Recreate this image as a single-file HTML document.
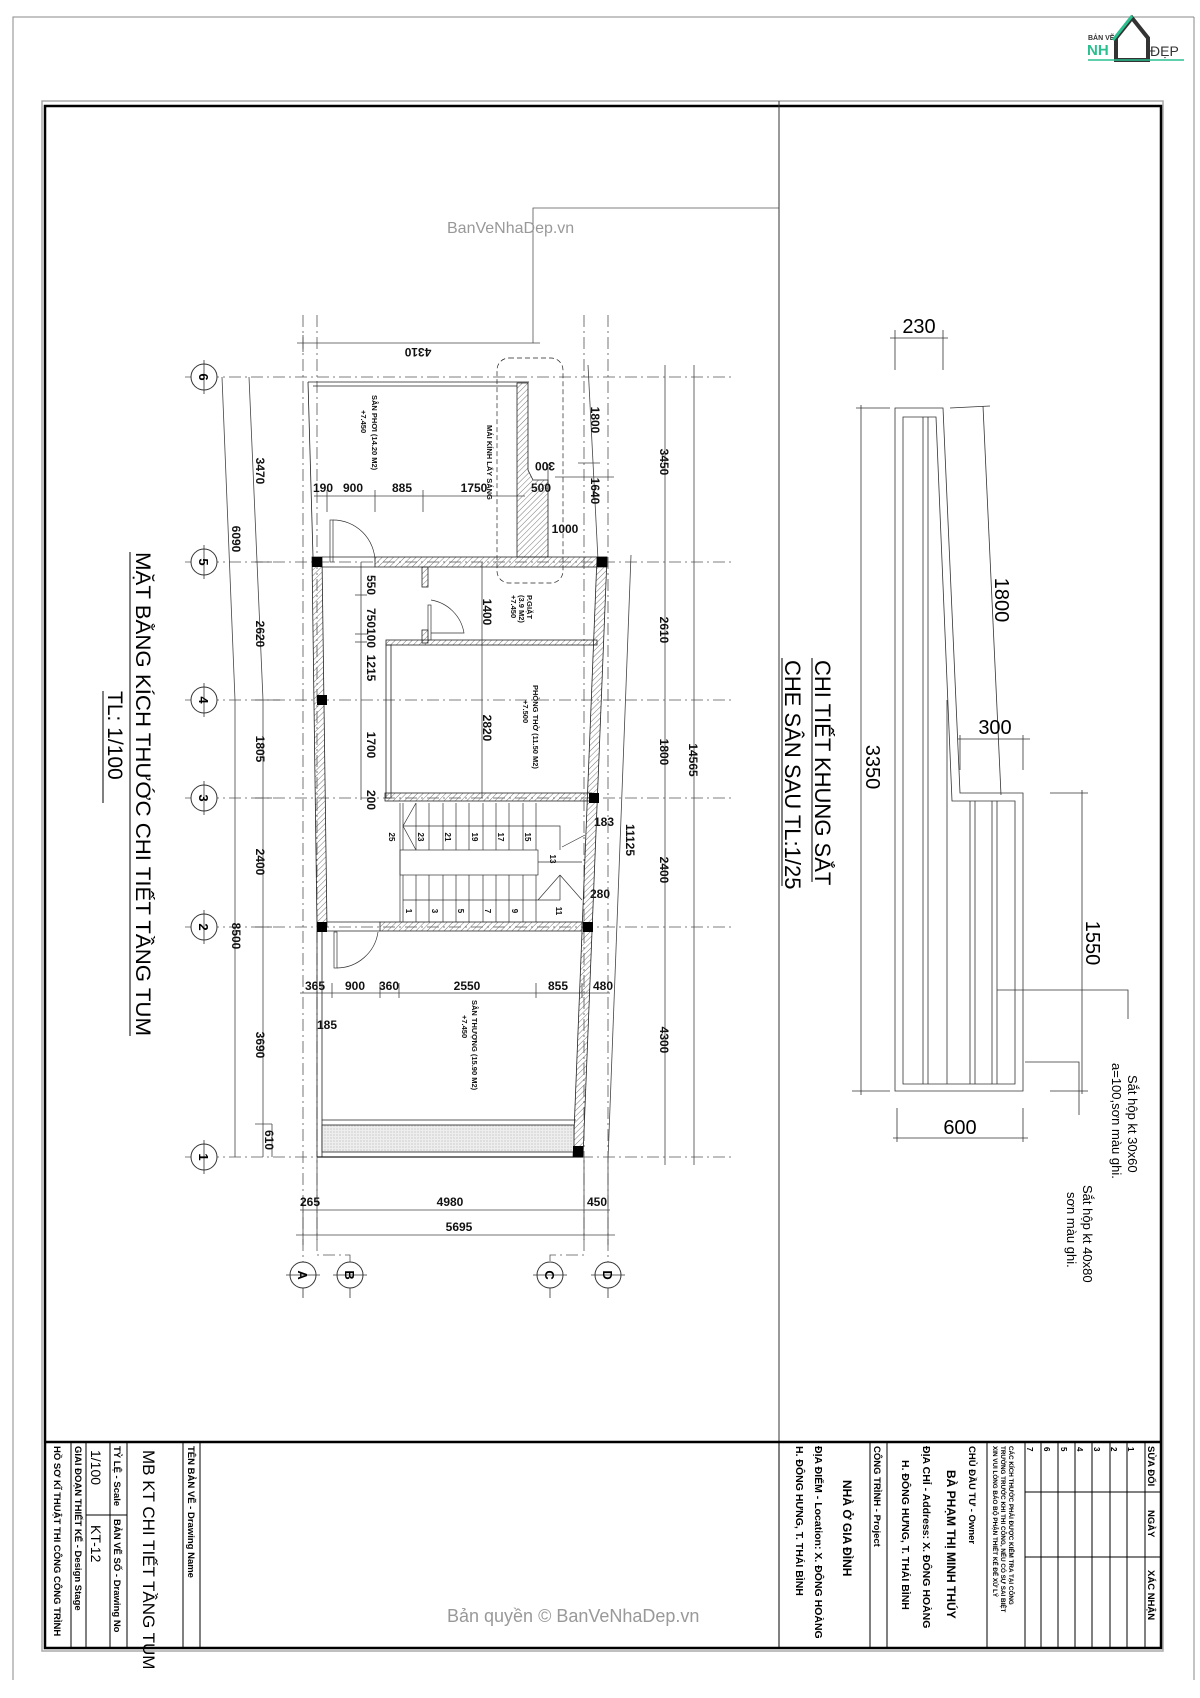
<!DOCTYPE html>
<html><head><meta charset="utf-8"><style>
html,body{margin:0;padding:0;background:#fff;}
svg{display:block;font-family:"Liberation Sans",Arial,sans-serif;}
</style></head><body>
<svg width="1200" height="1698" viewBox="0 0 1200 1698" xmlns="http://www.w3.org/2000/svg">
<defs>
<pattern id="h" width="4" height="4" patternUnits="userSpaceOnUse" patternTransform="rotate(45)"><line x1="0" y1="0" x2="0" y2="4" stroke="#555" stroke-width="0.8"/></pattern>
<pattern id="d" width="3" height="3" patternUnits="userSpaceOnUse"><rect width="3" height="3" fill="#eee"/><circle cx="1" cy="1" r="0.5" fill="#999"/></pattern>
</defs>
<rect width="1200" height="1698" fill="#fff"/>
<!-- outer frame -->
<path d="M13 1680 V17 H1194" fill="none" stroke="#888" stroke-width="1"/>
<line x1="1194" y1="17" x2="1194" y2="1680" stroke="#888"/>
<rect x="42" y="101" width="1121" height="1550" fill="none" stroke="#aaa" stroke-width="1.5"/>
<rect x="45" y="106" width="1116" height="1542" fill="none" stroke="#000" stroke-width="2.5"/>
<line x1="779" y1="101" x2="779" y2="1442" stroke="#333"/>
<path d="M533 343 V208 H779" fill="none" stroke="#555" stroke-width="0.8"/>
<!-- logo -->
<text x="1088" y="40" font-size="7" font-weight="bold" fill="#333">BẢN VẼ</text>
<text x="1087" y="55" font-size="15" font-weight="bold" fill="#2bbf8f">NH</text>
<path d="M1132 18 L1116 38 V60 H1148 V38 Z" fill="none" stroke="#333" stroke-width="4"/>
<path d="M1132 16 L1113 40" stroke="#2bbf8f" stroke-width="3"/>
<text x="1150" y="56" font-size="14" fill="#333">ĐẸP</text>
<line x1="1088" y1="60" x2="1184" y2="60" stroke="#2bbf8f" stroke-width="1.5"/>
<!-- watermark -->
<text x="447" y="233" font-size="16" fill="#999">BanVeNhaDep.vn</text>
<text x="447" y="1622" font-size="18" fill="#999">Bản quyền © BanVeNhaDep.vn</text>

<!-- GRID -->
<g stroke="#555" stroke-width="0.8" stroke-dasharray="12,4,2,4" fill="none">
<line x1="185" y1="377" x2="732" y2="377"/>
<line x1="185" y1="562" x2="732" y2="562"/>
<line x1="185" y1="700" x2="732" y2="700"/>
<line x1="185" y1="798" x2="732" y2="798"/>
<line x1="185" y1="927" x2="732" y2="927"/>
<line x1="185" y1="1157" x2="732" y2="1157"/>
<line x1="303" y1="315" x2="303" y2="1262"/>
<path d="M317 315 V1255 H350 V1262"/>
<path d="M584 315 V1255 H550 V1262"/>
<line x1="608" y1="315" x2="608" y2="1262"/>
</g>
<g stroke="#333" stroke-width="1" fill="#fff">
<circle cx="204" cy="377" r="13"/><circle cx="204" cy="562" r="13"/><circle cx="204" cy="700" r="13"/>
<circle cx="204" cy="798" r="13"/><circle cx="204" cy="927" r="13"/><circle cx="204" cy="1157" r="13"/>
<circle cx="303" cy="1275" r="13"/><circle cx="350" cy="1275" r="13"/><circle cx="550" cy="1275" r="13"/><circle cx="608" cy="1275" r="13"/>
</g>
<g stroke="#333" stroke-width="0.8">
<line x1="204" y1="360" x2="204" y2="394"/><line x1="204" y1="545" x2="204" y2="579"/><line x1="204" y1="683" x2="204" y2="717"/>
<line x1="204" y1="781" x2="204" y2="815"/><line x1="204" y1="910" x2="204" y2="944"/><line x1="204" y1="1140" x2="204" y2="1174"/>
<line x1="286" y1="1275" x2="320" y2="1275"/><line x1="333" y1="1275" x2="367" y2="1275"/><line x1="533" y1="1275" x2="567" y2="1275"/><line x1="591" y1="1275" x2="625" y2="1275"/>
<line x1="303" y1="1288" x2="303" y2="1298"/><line x1="350" y1="1288" x2="350" y2="1298"/><line x1="550" y1="1288" x2="550" y2="1298"/><line x1="608" y1="1288" x2="608" y2="1298"/>
</g>
<g font-size="13" font-weight="bold" fill="#000">
<text transform="translate(199,377) rotate(90)" text-anchor="middle">6</text>
<text transform="translate(199,562) rotate(90)" text-anchor="middle">5</text>
<text transform="translate(199,700) rotate(90)" text-anchor="middle">4</text>
<text transform="translate(199,798) rotate(90)" text-anchor="middle">3</text>
<text transform="translate(199,927) rotate(90)" text-anchor="middle">2</text>
<text transform="translate(199,1157) rotate(90)" text-anchor="middle">1</text>
<text transform="translate(298,1275) rotate(90)" text-anchor="middle">A</text>
<text transform="translate(345,1275) rotate(90)" text-anchor="middle">B</text>
<text transform="translate(545,1275) rotate(90)" text-anchor="middle">C</text>
<text transform="translate(603,1275) rotate(90)" text-anchor="middle">D</text>
</g>

<!-- LEFT DIM LINES -->
<g stroke="#444" stroke-width="0.8" fill="none">
<path d="M222 377 L235 700 V1157"/>
<path d="M249 377 L263 700 V1157"/>
<line x1="255" y1="562" x2="272" y2="562"/><line x1="255" y1="700" x2="280" y2="700"/><line x1="255" y1="798" x2="272" y2="798"/><line x1="255" y1="927" x2="272" y2="927"/><line x1="255" y1="1124" x2="272" y2="1124"/>
<line x1="272" y1="1124" x2="272" y2="1157"/>
<!-- right dims -->
<line x1="665" y1="365" x2="665" y2="1165"/>
<line x1="694" y1="365" x2="694" y2="1165"/>
<line x1="631" y1="555" x2="608" y2="1160"/>
<path d="M588 365 L598 560"/>
<line x1="578" y1="463" x2="600" y2="463"/>
<line x1="555" y1="477" x2="614" y2="477"/>
<line x1="548" y1="464" x2="548" y2="492"/>
<!-- plan interior dims -->
<line x1="314" y1="496" x2="525" y2="496"/>
<line x1="327" y1="490" x2="327" y2="512"/><line x1="375" y1="490" x2="375" y2="512"/><line x1="423" y1="490" x2="423" y2="512"/>
<line x1="361" y1="562" x2="361" y2="800"/>
<line x1="355" y1="595" x2="367" y2="595"/><line x1="355" y1="634" x2="367" y2="634"/><line x1="355" y1="642" x2="367" y2="642"/>
<line x1="482" y1="562" x2="482" y2="798"/>
<line x1="300" y1="993" x2="610" y2="993"/>
<line x1="332" y1="983" x2="332" y2="998"/><line x1="380" y1="983" x2="380" y2="998"/><line x1="399" y1="983" x2="399" y2="998"/><line x1="536" y1="983" x2="536" y2="998"/><line x1="582" y1="983" x2="582" y2="998"/>
<!-- bottom dims -->
<line x1="300" y1="1210" x2="610" y2="1210"/>
<line x1="296" y1="1235" x2="615" y2="1235"/>
<line x1="303" y1="1200" x2="303" y2="1245"/><line x1="317" y1="1160" x2="317" y2="1240"/><line x1="584" y1="1160" x2="584" y2="1240"/><line x1="608" y1="1160" x2="608" y2="1245"/>
<!-- 4310 -->
<line x1="297" y1="343" x2="540" y2="343"/>
<line x1="303" y1="335" x2="303" y2="352"/>
</g>
<g font-size="12" font-weight="bold" fill="#111">
<text transform="translate(256,471) rotate(90)" text-anchor="middle">3470</text>
<text transform="translate(232,539) rotate(90)" text-anchor="middle">6090</text>
<text transform="translate(256,634) rotate(90)" text-anchor="middle">2620</text>
<text transform="translate(256,749) rotate(90)" text-anchor="middle">1805</text>
<text transform="translate(256,862) rotate(90)" text-anchor="middle">2400</text>
<text transform="translate(232,936) rotate(90)" text-anchor="middle">8500</text>
<text transform="translate(256,1045) rotate(90)" text-anchor="middle">3690</text>
<text transform="translate(265,1140) rotate(90)" text-anchor="middle">610</text>
<text transform="translate(660,462) rotate(90)" text-anchor="middle">3450</text>
<text transform="translate(660,630) rotate(90)" text-anchor="middle">2610</text>
<text transform="translate(660,752) rotate(90)" text-anchor="middle">1800</text>
<text transform="translate(660,870) rotate(90)" text-anchor="middle">2400</text>
<text transform="translate(660,1040) rotate(90)" text-anchor="middle">4300</text>
<text transform="translate(689,760) rotate(90)" text-anchor="middle">14565</text>
<text transform="translate(626,840) rotate(90)" text-anchor="middle">11125</text>
<text transform="translate(591,420) rotate(90)" text-anchor="middle">1800</text>
<text transform="translate(591,491) rotate(90)" text-anchor="middle">1640</text>
<text transform="translate(545,462) rotate(180)" text-anchor="middle">300</text>
<text transform="translate(418,348) rotate(180)" text-anchor="middle">4310</text>
<text x="565" y="533" text-anchor="middle">1000</text>
<text x="323" y="492" text-anchor="middle">190</text>
<text x="353" y="492" text-anchor="middle">900</text>
<text x="402" y="492" text-anchor="middle">885</text>
<text x="474" y="492" text-anchor="middle">1750</text>
<text x="541" y="492" text-anchor="middle">500</text>
<text transform="translate(367,585) rotate(90)" text-anchor="middle">550</text>
<text transform="translate(367,618) rotate(90)" text-anchor="middle">750</text>
<text transform="translate(367,638) rotate(90)" text-anchor="middle">100</text>
<text transform="translate(367,668) rotate(90)" text-anchor="middle">1215</text>
<text transform="translate(367,745) rotate(90)" text-anchor="middle">1700</text>
<text transform="translate(367,800) rotate(90)" text-anchor="middle">200</text>
<text transform="translate(483,612) rotate(90)" text-anchor="middle">1400</text>
<text transform="translate(483,728) rotate(90)" text-anchor="middle">2820</text>
<text x="315" y="990" text-anchor="middle">365</text>
<text x="355" y="990" text-anchor="middle">900</text>
<text x="389" y="990" text-anchor="middle">360</text>
<text x="467" y="990" text-anchor="middle">2550</text>
<text x="558" y="990" text-anchor="middle">855</text>
<text x="603" y="990" text-anchor="middle">480</text>
<text x="327" y="1029" text-anchor="middle">185</text>
<text x="604" y="826" text-anchor="middle">183</text>
<text x="600" y="898" text-anchor="middle">280</text>
<text x="310" y="1206" text-anchor="middle">265</text>
<text x="450" y="1206" text-anchor="middle">4980</text>
<text x="597" y="1206" text-anchor="middle">450</text>
<text x="459" y="1231" text-anchor="middle">5695</text>
</g>

<!-- PLAN WALLS -->
<g stroke="#222" stroke-width="0.8">
<path d="M308 382 H529 M308 382 L313 557 M313 386 H517" fill="none"/>
<polygon points="517,383 528,383 528,470 533,480 548,480 548,557 517,557" fill="url(#h)"/>
<rect x="497" y="358" width="66" height="225" rx="12" fill="none" stroke-dasharray="5,3" stroke-width="0.7"/>
<!-- top wall grid 5 -->
<rect x="375" y="557" width="232" height="10" fill="url(#h)"/>
<line x1="322" y1="557" x2="375" y2="557"/><line x1="322" y1="567" x2="375" y2="567"/>
<!-- left wall -->
<polygon points="312,557 322,557 327,927 317,927" fill="url(#h)"/>
<line x1="317" y1="927" x2="317" y2="1157"/><line x1="322" y1="927" x2="322" y2="1157"/>
<!-- right wall -->
<polygon points="597,557 607,557 583,1157 573,1157" fill="url(#h)"/>
<!-- interior walls -->
<rect x="422" y="567" width="6" height="20" fill="url(#h)"/>
<rect x="422" y="630" width="6" height="13" fill="url(#h)"/>
<rect x="386" y="640" width="211" height="5" fill="url(#h)"/>
<rect x="386" y="645" width="5" height="153" fill="none"/>
<rect x="385" y="793" width="207" height="8" fill="url(#h)"/>
<rect x="380" y="922" width="202" height="9" fill="url(#h)"/>
<line x1="327" y1="922" x2="380" y2="922"/><line x1="327" y1="931" x2="380" y2="931"/>
<!-- bottom strip -->
<line x1="322" y1="1120" x2="576" y2="1120"/>
<rect x="322" y="1125" width="252" height="27" fill="url(#d)"/>
<line x1="317" y1="1157" x2="583" y2="1157" stroke-width="1.2"/>
</g>
<g fill="#000">
<rect x="312" y="557" width="10" height="10"/><rect x="597" y="557" width="10" height="10"/>
<rect x="317" y="695" width="10" height="10"/><rect x="589" y="793" width="10" height="10"/>
<rect x="317" y="922" width="10" height="10"/><rect x="583" y="922" width="10" height="10"/>
<rect x="573" y="1146" width="10" height="11"/>
</g>
<!-- doors -->
<g stroke="#333" stroke-width="0.7" fill="none">
<rect x="330" y="520" width="3" height="42"/><path d="M333 520 A42 42 0 0 1 375 562"/>
<rect x="428" y="605" width="3" height="35"/><path d="M431 600 A40 40 0 0 1 464 633 H431"/>
<rect x="334" y="932" width="3" height="36"/><path d="M337 968 A42 42 0 0 0 378 932"/>
</g>
<!-- stairs -->
<g stroke="#333" stroke-width="0.7" fill="none">
<rect x="400" y="850" width="138" height="25"/>
<line x1="400" y1="803" x2="400" y2="922"/>
<path d="M403 803V850 M416 803V850 M429 803V850 M443 803V850 M456 803V850 M469 803V850 M483 803V850 M496 803V850 M509 803V850 M523 803V850 M536 803V850"/>
<path d="M403 875V922 M416 875V922 M429 875V922 M443 875V922 M456 875V922 M469 875V922 M483 875V922 M496 875V922 M509 875V922 M523 875V922 M536 875V922"/>
<path d="M403 826 H560 V850 M403 900 H560 V875 M538 862 H582"/>
<path d="M416 803 L403 826 L416 850 M560 875 L538 900 M560 875 L582 900 M562 847 L585 835"/>
</g>
<g font-size="8" font-weight="bold" fill="#111">
<text transform="translate(389,837) rotate(90)" text-anchor="middle">25</text>
<text transform="translate(418,837) rotate(90)" text-anchor="middle">23</text>
<text transform="translate(445,837) rotate(90)" text-anchor="middle">21</text>
<text transform="translate(472,837) rotate(90)" text-anchor="middle">19</text>
<text transform="translate(498,837) rotate(90)" text-anchor="middle">17</text>
<text transform="translate(525,837) rotate(90)" text-anchor="middle">15</text>
<text transform="translate(550,859) rotate(90)" text-anchor="middle">13</text>
<text transform="translate(406,911) rotate(90)" text-anchor="middle">1</text>
<text transform="translate(432,911) rotate(90)" text-anchor="middle">3</text>
<text transform="translate(458,911) rotate(90)" text-anchor="middle">5</text>
<text transform="translate(485,911) rotate(90)" text-anchor="middle">7</text>
<text transform="translate(512,911) rotate(90)" text-anchor="middle">9</text>
<text transform="translate(556,911) rotate(90)" text-anchor="middle">11</text>
</g>
<!-- room labels -->
<g font-size="7.5" font-weight="bold" fill="#111">
<text transform="translate(372,395) rotate(90)">SÂN PHƠI (14.20 M2)</text>
<text transform="translate(361,410) rotate(90)">+7.450</text>
<text transform="translate(487,425) rotate(90)">MÁI KÍNH LẤY SÁNG</text>
<text transform="translate(527,595) rotate(90)">P.GIẶT</text>
<text transform="translate(519,595) rotate(90)">(3.9 M2)</text>
<text transform="translate(511,595) rotate(90)">+7.450</text>
<text transform="translate(533,685) rotate(90)">PHÒNG THỜ (11.50 M2)</text>
<text transform="translate(523,700) rotate(90)">+7.500</text>
<text transform="translate(472,1000) rotate(90)">SÂN THƯỢNG (15.90 M2)</text>
<text transform="translate(462,1015) rotate(90)">+7.450</text>
</g>
<!-- plan title -->
<g font-size="21" fill="#000">
<text transform="translate(136,552) rotate(90)" textLength="484" lengthAdjust="spacingAndGlyphs">MẶT BẰNG KÍCH THƯỚC CHI TIẾT TẦNG TUM</text>
<text transform="translate(108,691) rotate(90)">TL: 1/100</text>
</g>
<line x1="130" y1="552" x2="130" y2="1036" stroke="#000"/>
<line x1="103" y1="691" x2="103" y2="803" stroke="#000"/>

<!-- FRAME DETAIL -->
<g stroke="#333" stroke-width="0.8" fill="none">
<path d="M895 1091 V408 H943 L960 793 H1023 V1091 Z"/>
<path d="M903 1084 V417 H936 L952 801 H1015 V1084 Z"/>
<path d="M923 417 V1084 M928 417 V1084 M947 700 V1084 M970 801 V1084 M975 801 V1084 M992 801 V1084 M997 801 V1084"/>
<line x1="890" y1="338" x2="948" y2="338"/><line x1="895" y1="330" x2="895" y2="370"/><line x1="943" y1="330" x2="943" y2="370"/>
<line x1="861" y1="405" x2="861" y2="1095"/><line x1="856" y1="408" x2="890" y2="408"/>
<line x1="852" y1="1091" x2="890" y2="1091"/>
<line x1="983" y1="406" x2="1001" y2="795"/><line x1="950" y1="408" x2="990" y2="406"/>
<line x1="958" y1="739" x2="1030" y2="739"/><line x1="960" y1="735" x2="960" y2="770"/><line x1="1023" y1="735" x2="1023" y2="770"/>
<line x1="1082" y1="790" x2="1082" y2="1094"/><line x1="1050" y1="793" x2="1088" y2="793"/><line x1="1050" y1="1091" x2="1088" y2="1091"/>
<line x1="893" y1="1138" x2="1028" y2="1138"/><line x1="897" y1="1108" x2="897" y2="1142"/><line x1="1023" y1="1108" x2="1023" y2="1142"/>
<path d="M997 990 H1128 V1019"/>
<path d="M1025 1062 H1079 V1115"/>
</g>
<g font-size="20" fill="#000">
<text x="919" y="333" text-anchor="middle">230</text>
<text transform="translate(995,600) rotate(90)" text-anchor="middle">1800</text>
<text x="995" y="734" text-anchor="middle">300</text>
<text transform="translate(866,767) rotate(90)" text-anchor="middle">3350</text>
<text transform="translate(1086,943) rotate(90)" text-anchor="middle">1550</text>
<text x="960" y="1134" text-anchor="middle">600</text>
</g>
<g font-size="22" fill="#000">
<text transform="translate(815,660) rotate(90)">CHI TIẾT KHUNG SẮT</text>
<text transform="translate(785,660) rotate(90)">CHE SÂN SAU TL:1/25</text>
</g>
<line x1="812" y1="658" x2="812" y2="882" stroke="#000"/>
<line x1="782" y1="658" x2="782" y2="886" stroke="#000"/>
<g font-size="13" fill="#000">
<text transform="translate(1128,1075) rotate(90)">Sắt hộp kt 30x60</text>
<text transform="translate(1112,1063) rotate(90)">a=100,sơn màu ghi.</text>
<text transform="translate(1083,1185) rotate(90)">Sắt hộp kt 40x80</text>
<text transform="translate(1067,1192) rotate(90)">sơn màu ghi.</text>
</g>

<!-- TITLE BLOCK -->
<line x1="45" y1="1442" x2="1161" y2="1442" stroke="#000" stroke-width="2.5"/>
<g stroke="#000" stroke-width="1">
<line x1="71" y1="1442" x2="71" y2="1648"/><line x1="86" y1="1442" x2="86" y2="1648"/>
<line x1="110" y1="1442" x2="110" y2="1648"/><line x1="127" y1="1442" x2="127" y2="1648"/>
<line x1="183" y1="1442" x2="183" y2="1648"/><line x1="200" y1="1442" x2="200" y2="1648"/>
<line x1="86" y1="1515" x2="127" y2="1515"/>
<line x1="779" y1="1442" x2="779" y2="1648"/><line x1="870" y1="1442" x2="870" y2="1648"/>
<line x1="887" y1="1442" x2="887" y2="1648"/><line x1="987" y1="1442" x2="987" y2="1648"/>
<line x1="1025" y1="1442" x2="1025" y2="1648"/>
<line x1="1041" y1="1442" x2="1041" y2="1648"/><line x1="1058" y1="1442" x2="1058" y2="1648"/>
<line x1="1075" y1="1442" x2="1075" y2="1648"/><line x1="1092" y1="1442" x2="1092" y2="1648"/>
<line x1="1110" y1="1442" x2="1110" y2="1648"/><line x1="1127" y1="1442" x2="1127" y2="1648"/>
<line x1="1145" y1="1442" x2="1145" y2="1648"/>
<line x1="1025" y1="1492" x2="1161" y2="1492"/><line x1="1025" y1="1557" x2="1161" y2="1557"/>
</g>
<g font-size="9.5" font-weight="bold" fill="#000">
<text transform="translate(54,1446) rotate(90)">HỒ SƠ KĨ THUẬT THI CÔNG CÔNG TRÌNH</text>
<text transform="translate(75,1446) rotate(90)">GIAI ĐOẠN THIẾT KẾ - Design Stage</text>
<text transform="translate(114,1446) rotate(90)">TỶ LỆ - Scale</text>
<text transform="translate(114,1519) rotate(90)">BẢN VẼ SỐ - Drawing No</text>
<text transform="translate(188,1446) rotate(90)">TÊN BẢN VẼ - Drawing Name</text>
<text transform="translate(874,1446) rotate(90)">CÔNG TRÌNH - Project</text>
<text transform="translate(969,1446) rotate(90)">CHỦ ĐẦU TƯ - Owner</text>
<text transform="translate(1148,1446) rotate(90)">SỬA ĐỔI</text>
<text transform="translate(1148,1510) rotate(90)">NGÀY</text>
<text transform="translate(1148,1570) rotate(90)">XÁC NHẬN</text>
</g>
<g font-size="14" fill="#000">
<text transform="translate(91,1450) rotate(90)">1/100</text>
<text transform="translate(91,1525) rotate(90)">KT-12</text>
</g>
<text transform="translate(143,1450) rotate(90)" font-size="17" fill="#000">MB KT CHI TIẾT TẦNG TUM</text>
<g font-size="10.5" font-weight="bold" fill="#000">
<text transform="translate(796,1446) rotate(90)">H. ĐÔNG HƯNG, T. THÁI BÌNH</text>
<text transform="translate(815,1446) rotate(90)">ĐỊA ĐIỂM - Location: X. ĐÔNG HOÀNG</text>
<text transform="translate(843,1480) rotate(90)" font-size="12">NHÀ Ở GIA ĐÌNH</text>
<text transform="translate(902,1460) rotate(90)">H. ĐÔNG HƯNG, T. THÁI BÌNH</text>
<text transform="translate(923,1446) rotate(90)">ĐỊA CHỈ - Address: X. ĐÔNG HOÀNG</text>
<text transform="translate(947,1470) rotate(90)" font-size="12">BÀ PHẠM THỊ MINH THÚY</text>
</g>
<g font-size="6.3" font-weight="bold" fill="#000">
<text transform="translate(993,1446) rotate(90)">XIN VUI LÒNG BÁO BỘ PHẬN THIẾT KẾ ĐỂ XỬ LÝ</text>
<text transform="translate(1001,1446) rotate(90)">TRƯỜNG TRƯỚC KHI THI CÔNG, NẾU CÓ SỰ SAI BIỆT</text>
<text transform="translate(1009,1446) rotate(90)">CÁC KÍCH THƯỚC PHẢI ĐƯỢC KIỂM TRA TẠI CÔNG</text>
</g>
<g font-size="8" font-weight="bold" fill="#000">
<text transform="translate(1128,1447) rotate(90)">1</text><text transform="translate(1111,1447) rotate(90)">2</text>
<text transform="translate(1094,1447) rotate(90)">3</text><text transform="translate(1077,1447) rotate(90)">4</text>
<text transform="translate(1061,1447) rotate(90)">5</text><text transform="translate(1044,1447) rotate(90)">6</text>
<text transform="translate(1027,1447) rotate(90)">7</text>
</g>
</svg>
</body></html>
